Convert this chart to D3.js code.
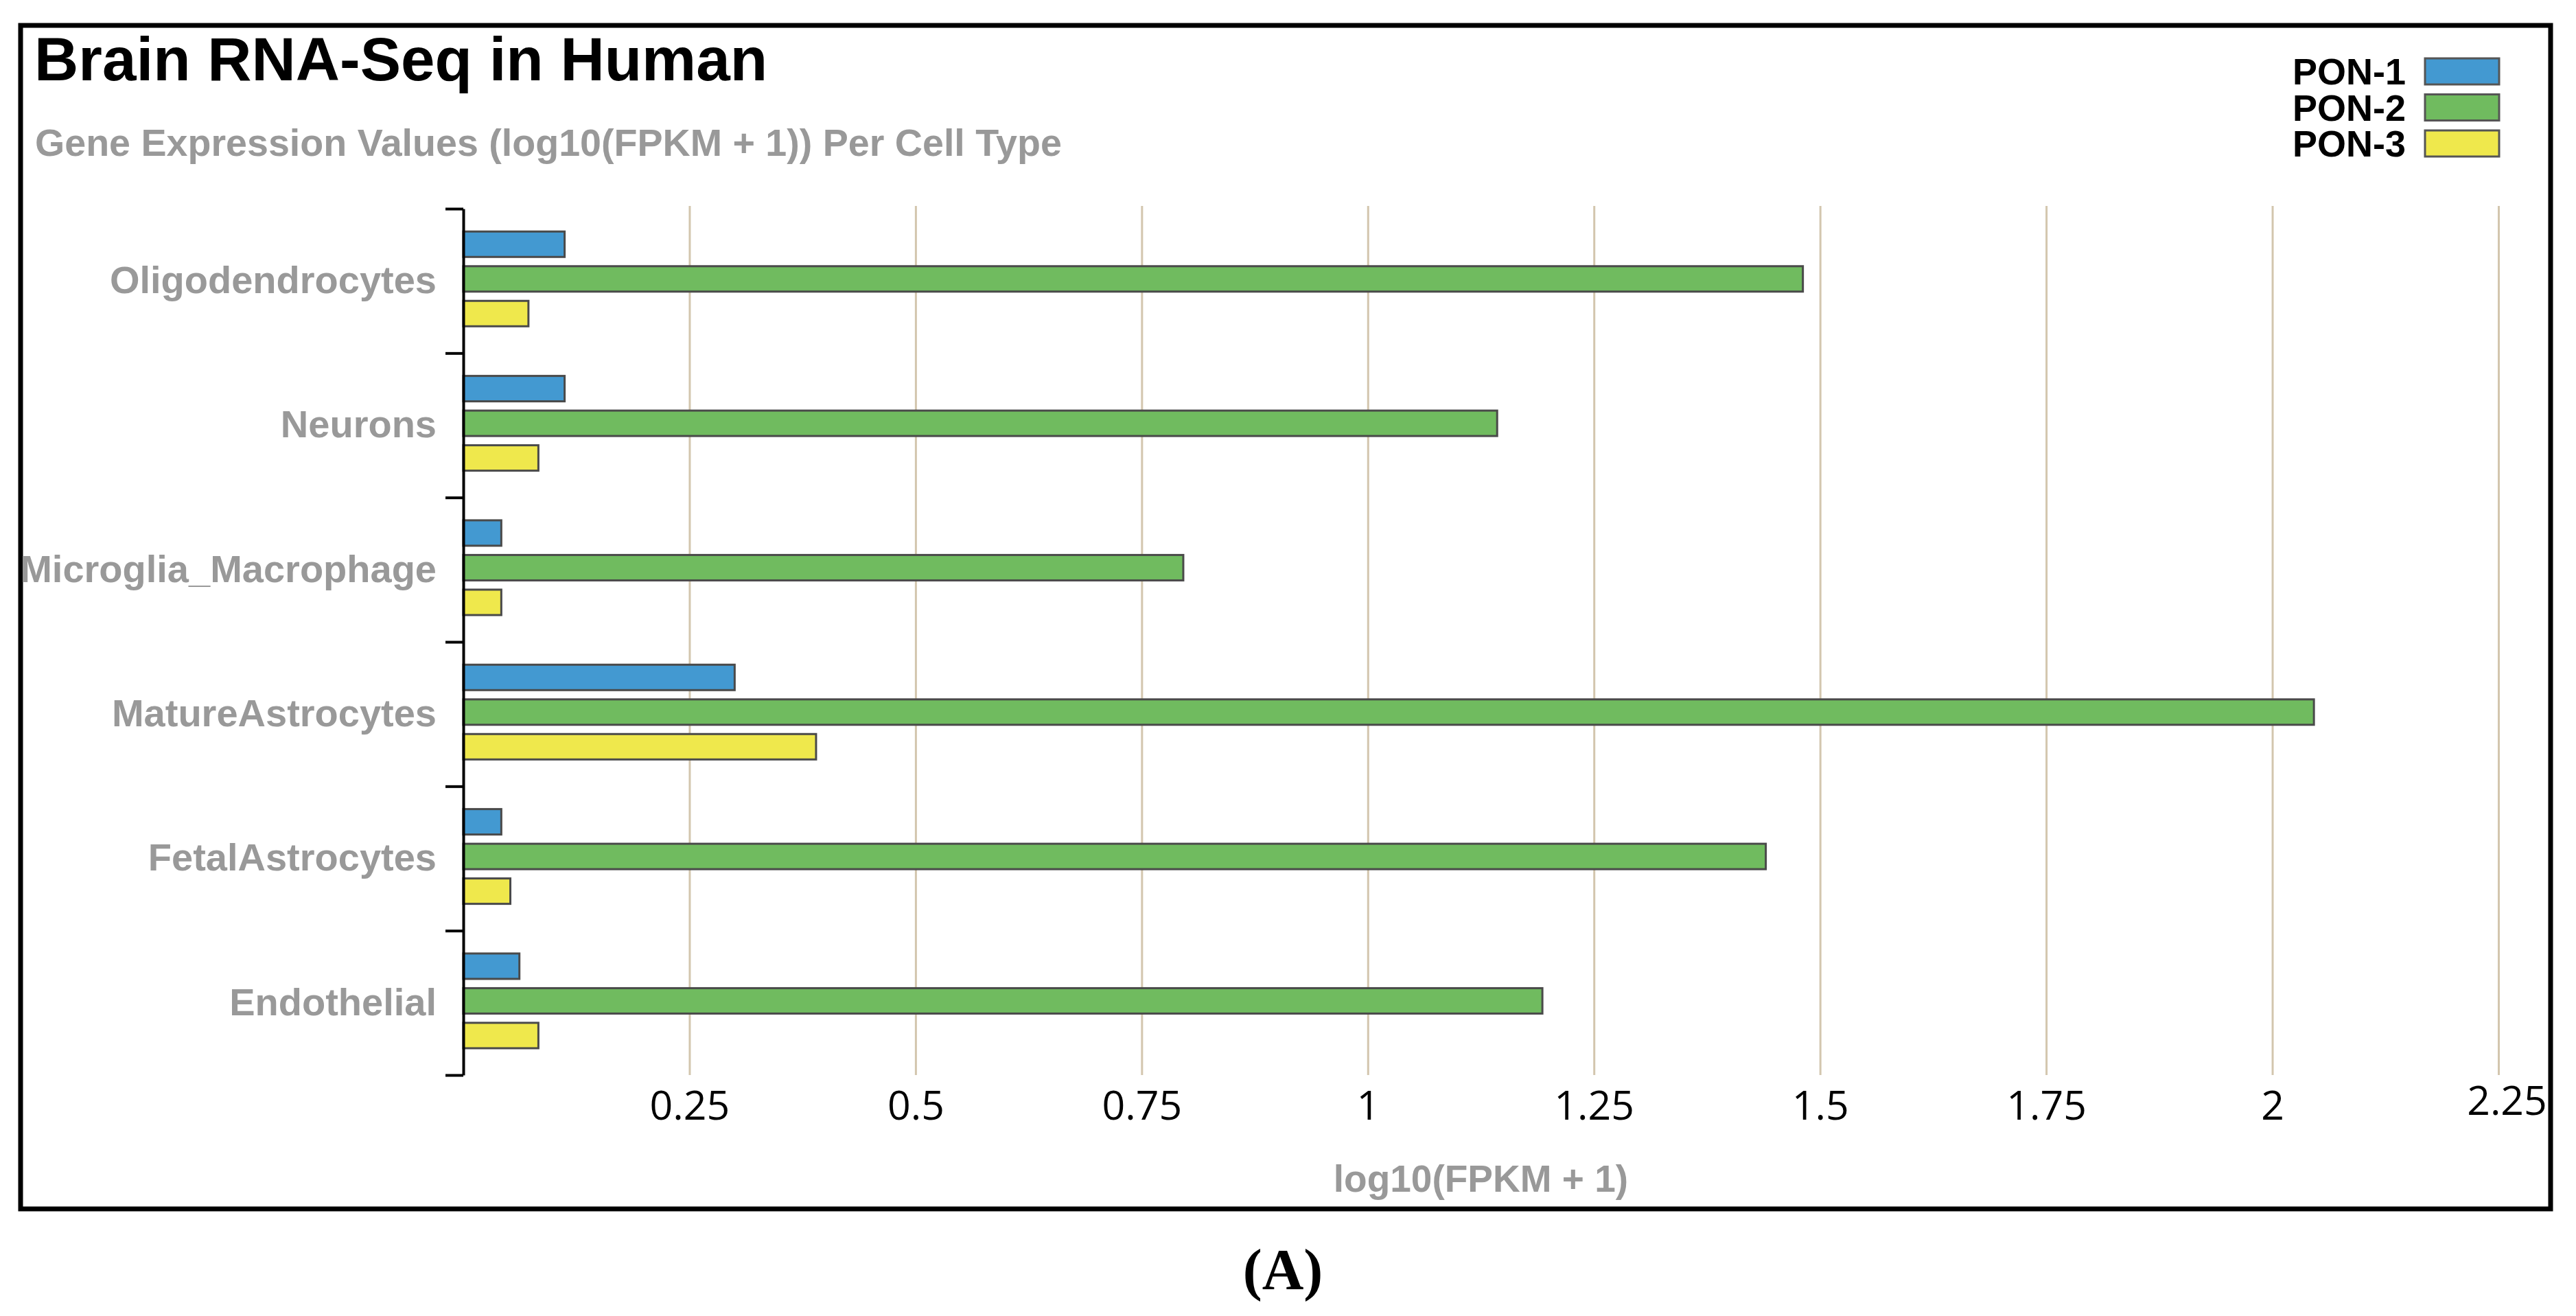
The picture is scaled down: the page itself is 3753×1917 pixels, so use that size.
<!DOCTYPE html>
<html>
<head>
<meta charset="utf-8">
<script src="https://cdn.jsdelivr.net/npm/d3@7"></script>
<style>
  body { margin: 0; background: #fff; }
  .grey { fill: #999; font-family: "Liberation Sans", Arial, sans-serif; font-weight: bold; }
</style>
</head>
<body>
<div id="chart"></div>
<script>
// Brain RNA-Seq in Human - grouped horizontal bars

// Data
const categories = ["Oligodendrocytes", "Neurons", "Microglia_Macrophage", "MatureAstrocytes", "FetalAstrocytes", "Endothelial"];
const seriesNames = ["PON-1", "PON-2", "PON-3"];
const pon1 = [0.112, 0.112, 0.042, 0.300, 0.042, 0.062];
const pon2 = [1.481, 1.143, 0.796, 2.046, 1.440, 1.193];
const pon3 = [0.072, 0.083, 0.042, 0.390, 0.052, 0.083];
const xTicks = [0.25, 0.5, 0.75, 1, 1.25, 1.5, 1.75, 2, 2.25];
const colors = ["#4399d1", "#70bb5f", "#efe84c"];

// SVG dimensions
const width = 3753;
const height = 1917;

const plot = { left: 675, right: 3640, top: 304, bottom: 1566 };

const svg = d3.select("#chart")
  .append("svg")
  .attr("width", width)
  .attr("height", height);

// Frame
svg.append("rect")
  .attr("x", 30)
  .attr("y", 37)
  .attr("width", 3686)
  .attr("height", 1724)
  .attr("fill", "none")
  .attr("stroke", "#000")
  .attr("stroke-width", 7);

// Scales
const x = d3.scaleLinear()
  .domain([0, 2.25])
  .range([plot.left, plot.right]);

const y0 = d3.scaleBand()
  .domain(categories)
  .range([plot.top, plot.bottom]);

const y1 = d3.scaleBand()
  .domain(seriesNames)
  .range([0, y0.bandwidth()])
  .paddingInner(0.267)
  .paddingOuter(0.716)
  .align(0.46);

// Grid lines + x tick labels
const xAxis = svg.append("g")
  .attr("transform", `translate(0, ${plot.bottom})`)
  .call(
    d3.axisBottom(x)
      .tickValues(xTicks)
      .tickSize(-(plot.bottom - 300))
      .tickSizeOuter(0)
      .tickPadding(23)
      .tickFormat(d => String(d))
  );

xAxis.select(".domain").remove();
xAxis.selectAll(".tick line")
  .attr("stroke", "#d3c6ae")
  .attr("stroke-width", 3);
xAxis.selectAll(".tick text")
  .attr("fill", "#000")
  .style("font-family", "'Open Sans', sans-serif")
  .style("font-size", "59px");
xAxis.selectAll(".tick text")
  .filter(d => d === 2.25)
  .attr("transform", "translate(12, -7)");

// Bars
const rows = categories.map((c, i) => ({
  category: c,
  values: [pon1[i], pon2[i], pon3[i]].map((v, j) => ({ series: seriesNames[j], value: v, color: colors[j] }))
}));

svg.append("g")
  .selectAll("g")
  .data(rows)
  .enter()
  .append("g")
  .attr("transform", d => `translate(0, ${y0(d.category)})`)
  .selectAll("rect")
  .data(d => d.values)
  .enter()
  .append("rect")
  .attr("x", x(0))
  .attr("y", d => y1(d.series))
  .attr("width", d => x(d.value) - x(0))
  .attr("height", y1.bandwidth())
  .attr("fill", d => d.color)
  .attr("stroke", "#4a4a4a")
  .attr("stroke-width", 3);

// Y axis with boundary ticks
const yEdge = d3.scaleLinear()
  .domain([0, categories.length])
  .range([plot.top, plot.bottom]);

const yAxis = svg.append("g")
  .attr("transform", `translate(${plot.left}, 0)`)
  .call(
    d3.axisLeft(yEdge)
      .tickValues(d3.range(0, categories.length + 1))
      .tickSize(26)
      .tickSizeOuter(0)
      .tickFormat("")
  );
yAxis.selectAll("path, line")
  .attr("stroke", "#000")
  .attr("stroke-width", 4);

// Category labels
const yLabels = svg.append("g")
  .attr("transform", `translate(${plot.left}, 0)`)
  .call(d3.axisLeft(y0).tickSize(0).tickPadding(39));
yLabels.select(".domain").remove();
yLabels.selectAll(".tick text")
  .attr("class", "grey")
  .style("font-size", "56px");

// Title
svg.append("text")
  .attr("x", 50)
  .attr("y", 117)
  .style("font-family", "'Liberation Sans', Arial, sans-serif")
  .style("font-weight", "bold")
  .style("font-size", "89px")
  .attr("fill", "#000")
  .text("Brain RNA-Seq in Human");

svg.append("text")
  .attr("class", "grey")
  .attr("x", 51)
  .attr("y", 227)
  .style("font-size", "55.6px")
  .text("Gene Expression Values (log10(FPKM + 1)) Per Cell Type");

// X axis label
svg.append("text")
  .attr("class", "grey")
  .attr("x", (plot.left + plot.right) / 2)
  .attr("y", 1736)
  .attr("text-anchor", "middle")
  .style("font-size", "55px")
  .text("log10(FPKM + 1)");

// Legend
const legend = svg.append("g")
  .selectAll("g")
  .data(seriesNames)
  .enter()
  .append("g")
  .attr("transform", (d, i) => `translate(0, ${i * 52.5})`);

legend.append("text")
  .attr("x", 3505)
  .attr("y", 123)
  .attr("text-anchor", "end")
  .style("font-family", "'Liberation Sans', Arial, sans-serif")
  .style("font-weight", "bold")
  .style("font-size", "54px")
  .attr("fill", "#000")
  .text(d => d);

legend.append("rect")
  .attr("x", 3533)
  .attr("y", 85)
  .attr("width", 108)
  .attr("height", 38)
  .attr("fill", (d, i) => colors[i])
  .attr("stroke", "#555")
  .attr("stroke-width", 3);

// Panel caption
svg.append("text")
  .attr("x", 1869)
  .attr("y", 1878)
  .attr("text-anchor", "middle")
  .style("font-family", "'Liberation Serif', 'Times New Roman', serif")
  .style("font-weight", "bold")
  .style("font-size", "84px")
  .attr("fill", "#000")
  .text("(A)");
</script>
</body>
</html>
